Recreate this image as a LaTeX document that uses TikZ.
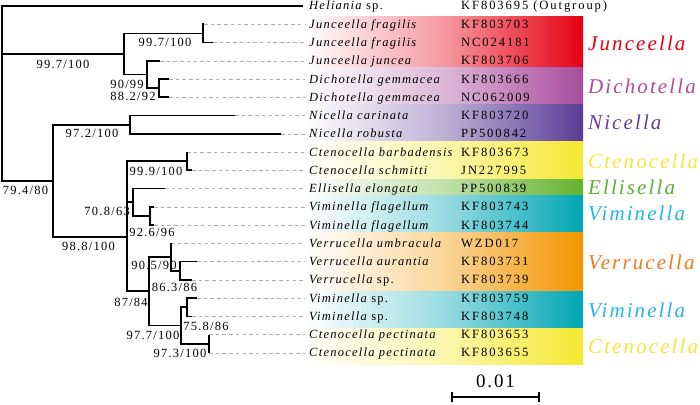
\documentclass[tikz,border=0pt]{standalone}
\usepackage{fontspec}
\setmainfont{Liberation Serif}[LetterSpace=10]
\definecolor{cjun}{RGB}{230,0,18}
\definecolor{cdic}{RGB}{168,76,156}
\definecolor{cnic}{RGB}{91,60,150}
\definecolor{ccte}{RGB}{245,232,50}
\definecolor{cell}{RGB}{100,178,45}
\definecolor{cvim}{RGB}{0,166,180}
\definecolor{cver}{RGB}{243,150,0}
\definecolor{tjun}{RGB}{230,0,18}
\definecolor{tdic}{RGB}{176,72,160}
\definecolor{tnic}{RGB}{100,60,160}
\definecolor{tcte}{RGB}{247,230,60}
\definecolor{tell}{RGB}{90,176,50}
\definecolor{tvim}{RGB}{35,180,230}
\definecolor{tver}{RGB}{240,120,30}
\begin{document}
\begin{tikzpicture}[x=1pt,y=-1pt,
  br/.style={line width=1.7pt},
  dsh/.style={gray!65, dash pattern=on 3.5pt off 3.2pt, line width=0.6pt, shorten >=4pt},
  sp/.style={anchor=base west, font=\fontsize{12.5}{14}\selectfont\itshape, inner sep=0pt},
  acc/.style={anchor=base west, font=\fontsize{12.6}{14}\selectfont\addfontfeature{LetterSpace=15}, inner sep=0pt},
  gen/.style={anchor=base west, font=\fontsize{21}{24}\selectfont\itshape, inner sep=0pt},
  bs/.style={font=\fontsize{12.5}{14}\selectfont, inner sep=0pt},
  band/.style={left color=white, right color=#1, middle color=#1!40}
]
\useasboundingbox (0,0) rectangle (700,404);
% colour bands
\shade[band=cjun] (305,17) rectangle (583,67);
\shade[band=cdic] (305,67) rectangle (583,104);
\shade[band=cnic] (305,104) rectangle (583,141);
\shade[band=ccte] (305,141) rectangle (583,179);
\shade[band=cell] (305,179) rectangle (583,195);
\shade[band=cvim] (305,195) rectangle (583,232);
\shade[band=cver] (305,232) rectangle (583,291);
\shade[band=cvim] (305,291) rectangle (583,328);
\shade[band=ccte] (305,328) rectangle (583,364);
% internal nodes
\coordinate (R) at (2,54);
\coordinate (A) at (124,54);
\coordinate (JF) at (203,33.4);
\coordinate (JD) at (147,74.5);
\coordinate (D) at (159,88.2);
\coordinate (B) at (53,181);
\coordinate (N) at (130,124.7);
\coordinate (C) at (127,237);
\coordinate (Ct) at (187,161.2);
\coordinate (E) at (133,202.3);
\coordinate (VF) at (150,216);
\coordinate (D2) at (149,291);
\coordinate (V) at (171,257);
\coordinate (V2) at (180,270.8);
\coordinate (F) at (181,325.5);
\coordinate (G) at (187,307.3);
\coordinate (H) at (209,343.8);
% leaf ends
\coordinate (L0) at (303,6);
\coordinate (L1) at (204,24.3);
\coordinate (L2) at (213,42.5);
\coordinate (L3) at (160,60.8);
\coordinate (L4) at (169,79.0);
\coordinate (L5) at (169,97.3);
\coordinate (L6) at (235,115.6);
\coordinate (L7) at (281,133.8);
\coordinate (L8) at (187,152.1);
\coordinate (L9) at (192,170.3);
\coordinate (L10) at (165,188.6);
\coordinate (L11) at (154,206.9);
\coordinate (L12) at (154,225.1);
\coordinate (L13) at (171,243.4);
\coordinate (L14) at (197,261.6);
\coordinate (L15) at (192,279.9);
\coordinate (L16) at (197,298.2);
\coordinate (L17) at (192,316.4);
\coordinate (L18) at (209,334.7);
\coordinate (L19) at (209,352.9);
% species labels
\node[sp] (T0) at (309,10.0) {Heliania\upshape{} sp.};
\node[sp] (T1) at (309,28.3) {Junceella fragilis};
\node[sp] (T2) at (309,46.5) {Junceella fragilis};
\node[sp] (T3) at (309,64.8) {Junceella juncea};
\node[sp] (T4) at (309,83.0) {Dichotella gemmacea};
\node[sp] (T5) at (309,101.3) {Dichotella gemmacea};
\node[sp] (T6) at (309,119.6) {Nicella carinata};
\node[sp] (T7) at (309,137.8) {Nicella robusta};
\node[sp] (T8) at (309,156.1) {Ctenocella barbadensis};
\node[sp] (T9) at (309,174.3) {Ctenocella schmitti};
\node[sp] (T10) at (309,192.6) {Ellisella elongata};
\node[sp] (T11) at (309,210.9) {Viminella flagellum};
\node[sp] (T12) at (309,229.1) {Viminella flagellum};
\node[sp] (T13) at (309,247.4) {Verrucella umbracula};
\node[sp] (T14) at (309,265.6) {Verrucella aurantia};
\node[sp] (T15) at (309,283.9) {Verrucella\upshape{} sp.};
\node[sp] (T16) at (309,302.2) {Viminella\upshape{} sp.};
\node[sp] (T17) at (309,320.4) {Viminella\upshape{} sp.};
\node[sp] (T18) at (309,338.7) {Ctenocella pectinata};
\node[sp] (T19) at (309,356.9) {Ctenocella pectinata};
% accession numbers
\node[acc] (K0) at (461,10.0) {KF803695 (Outgroup)};
\node[acc] (K1) at (461,28.3) {KF803703};
\node[acc] (K2) at (461,46.5) {NC024181};
\node[acc] (K3) at (461,64.8) {KF803706};
\node[acc] (K4) at (461,83.0) {KF803666};
\node[acc] (K5) at (461,101.3) {NC062009};
\node[acc] (K6) at (461,119.6) {KF803720};
\node[acc] (K7) at (461,137.8) {PP500842};
\node[acc] (K8) at (461,156.1) {KF803673};
\node[acc] (K9) at (461,174.3) {JN227995};
\node[acc] (K10) at (461,192.6) {PP500839};
\node[acc] (K11) at (461,210.9) {KF803743};
\node[acc] (K12) at (461,229.1) {KF803744};
\node[acc] (K13) at (461,247.4) {WZD017};
\node[acc] (K14) at (461,265.6) {KF803731};
\node[acc] (K15) at (461,283.9) {KF803739};
\node[acc] (K16) at (461,302.2) {KF803759};
\node[acc] (K17) at (461,320.4) {KF803748};
\node[acc] (K18) at (461,338.7) {KF803653};
\node[acc] (K19) at (461,356.9) {KF803655};
% genus labels
\node[gen, text=tjun] (G1) at (588,50) {Junceella};
\node[gen, text=tdic] (G2) at (588,93) {Dichotella};
\node[gen, text=tnic] (G3) at (588,129.5) {Nicella};
\node[gen, text=tcte] (G4) at (588,168.5) {Ctenocella};
\node[gen, text=tell] (G5) at (588,194.5) {Ellisella};
\node[gen, text=tvim] (G6) at (588,220.5) {Viminella};
\node[gen, text=tver] (G7) at (588,269.5) {Verrucella};
\node[gen, text=tvim] (G8) at (588,317.5) {Viminella};
\node[gen, text=tcte] (G9) at (588,353.5) {Ctenocella};
% dashed leaders
\foreach \i in {1,...,19}{\draw[dsh] (L\i) -- (T\i.west |- L\i);}
% tree branches
\draw[br] (R) |- (L0);
\draw[br] (R) -- (A);
\draw[br] (R) |- (B);
\draw[br] (A) |- (JF);
\draw[br] (A) |- (JD);
\draw[br] (JF) |- (L1);
\draw[br] (JF) |- (L2);
\draw[br] (JD) |- (L3);
\draw[br] (JD) |- (D);
\draw[br] (D) |- (L4);
\draw[br] (D) |- (L5);
\draw[br] (B) |- (N);
\draw[br] (B) |- (C);
\draw[br] (N) |- (L6);
\draw[br] (N) |- (L7);
\draw[br] (C) |- (Ct);
\draw[br] (C) |- (E);
\draw[br] (C) |- (D2);
\draw[br] (Ct) |- (L8);
\draw[br] (Ct) |- (L9);
\draw[br] (E) |- (L10);
\draw[br] (E) |- (VF);
\draw[br] (VF) |- (L11);
\draw[br] (VF) |- (L12);
\draw[br] (D2) |- (V);
\draw[br] (D2) |- (F);
\draw[br] (V) |- (L13);
\draw[br] (V) |- (V2);
\draw[br] (V2) |- (L14);
\draw[br] (V2) |- (L15);
\draw[br] (F) |- (G);
\draw[br] (F) |- (H);
\draw[br] (G) |- (L16);
\draw[br] (G) |- (L17);
\draw[br] (H) |- (L18);
\draw[br] (H) |- (L19);
% support values
\node[bs] (b1) at (63,64) {99.7/100};
\node[bs] (b2) at (165,42) {99.7/100};
\node[bs] (b3) at (127,84) {90/99};
\node[bs] (b4) at (133,96) {88.2/92};
\node[bs] (b5) at (92,133) {97.2/100};
\node[bs] (b6) at (25.5,190) {79.4/80};
\node[bs] (b7) at (88.5,246) {98.8/100};
\node[bs] (b8) at (156,171) {99.9/100};
\node[bs, anchor=east] (b9) at (130,211) {70.8/63};
\node[bs] (b10) at (152,232) {92.6/96};
\node[bs] (b11) at (154,265) {90.5/90};
\node[bs] (b12) at (174.5,287.5) {86.3/86};
\node[bs] (b13) at (131,302) {87/84};
\node[bs] (b14) at (153,335) {97.7/100};
\node[bs] (b15) at (206,326) {75.8/86};
\node[bs] (b16) at (180,353) {97.3/100};
% scale bar
\coordinate (S1) at (452,397);
\coordinate (S2) at (539,397);
\draw[line width=1.6pt] (S1) -- (S2);
\draw[line width=1.4pt] ([yshift=-5pt]S1) -- ([yshift=5pt]S1);
\draw[line width=1.4pt] ([yshift=-5pt]S2) -- ([yshift=5pt]S2);
\node[font=\fontsize{19}{22}\selectfont, inner sep=0pt] (S) at (495.5,381) {0.01};
\end{tikzpicture}
\end{document}
